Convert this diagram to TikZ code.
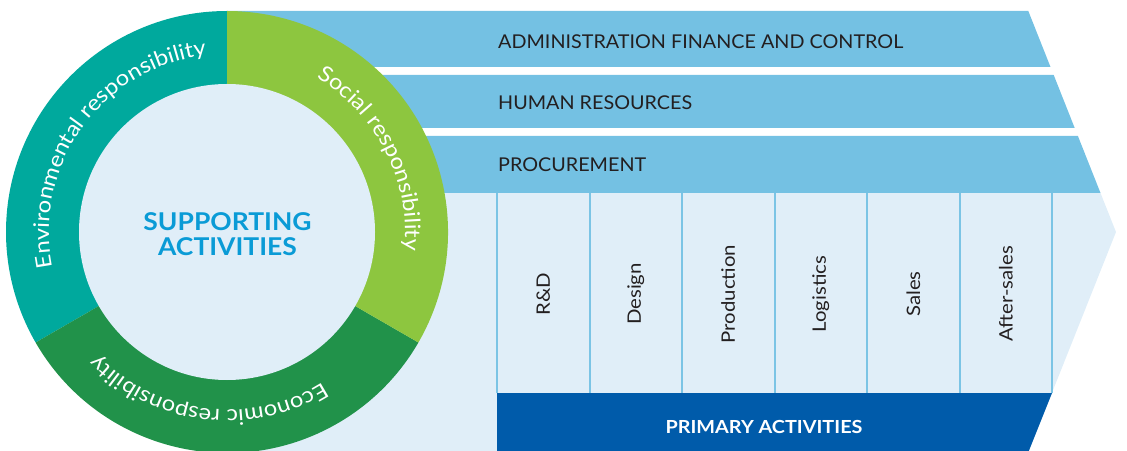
\documentclass[tikz,border=0pt]{standalone}
\usepackage{fontspec}
\setmainfont{Lato}
\newfontfamily\bandfont[FakeStretch=1.04]{Lato}
\newfontfamily\colfont[FakeStretch=1.1]{Lato}
\newfontfamily\ringfont[FakeStretch=1.1]{Lato}
\newfontfamily\boldwide[FakeStretch=1.08]{Lato Bold}
\newfontfamily\primfont[FakeStretch=1.1]{Lato Bold}
\usetikzlibrary{decorations.text}
\definecolor{bandblue}{HTML}{74C1E3}
\definecolor{bgblue}{HTML}{E0EEF8}
\definecolor{primblue}{HTML}{005BAA}
\definecolor{ringteal}{HTML}{00A99D}
\definecolor{ringlgreen}{HTML}{8DC63F}
\definecolor{ringdgreen}{HTML}{21924A}
\definecolor{supptext}{HTML}{0A9BD6}
\definecolor{darktext}{HTML}{231F20}
\definecolor{colline}{HTML}{7BC4E5}
\tikzset{
  bandlabel/.style={anchor=west, inner sep=0pt, text=darktext, font=\bandfont\fontsize{19}{19}\selectfont},
  collabel/.style={rotate=90, inner sep=0pt, text=darktext, font=\colfont\fontsize{18.5}{18.5}\selectfont},
  collinestyle/.style={draw=colline, line width=2pt},
  ringtext/.style={decorate, decoration={text along path, text align=center, text color=white,
     text={|\ringfont\fontsize{21.5}{21.5}\selectfont|#1}}}
}
\begin{document}
\begin{tikzpicture}[x=1pt,y=1pt]
\useasboundingbox (0,0) rectangle (1127,450);
\clip (0,0) rectangle (1127,450);
\coordinate (C) at (227,218);
% background chevron
\fill[bgblue] (227,257) -- (1100.5,257) -- (1116,218) -- (1028,-3) -- (227,-3) -- cycle;
% bands
\fill[bandblue] (227,439) -- (1028.3,439) -- (1050.5,383) -- (227,383) -- cycle;
\fill[bandblue] (227,375) -- (1053.7,375) -- (1074.7,322) -- (227,322) -- cycle;
\fill[bandblue] (227,314) -- (1077.9,314) -- (1100.5,257) -- (227,257) -- cycle;
\node[bandlabel] (adm) at (498,408) {ADMINISTRATION FINANCE AND CONTROL};
\node[bandlabel] (hr) at (498,347) {HUMAN RESOURCES};
\node[bandlabel] (proc) at (498,285.5) {PROCUREMENT};
% columns
\foreach \i in {0,...,6} {
  \draw[collinestyle] (497+92.5*\i,257) -- (497+92.5*\i,57);
}
\node[collabel] (rd) at (543.25,156) {R\&D};
\node[collabel] (des) at (635.75,156) {Design};
\node[collabel] (prod) at (728.25,156) {Production};
\node[collabel] (log) at (820.75,156) {Logistics};
\node[collabel] (sal) at (913.25,156) {Sales};
\node[collabel] (aft) at (1005.75,156) {After-sales};
% primary band
\fill[primblue] (497,57) -- (1052,57) -- (1028,-3) -- (497,-3) -- cycle;
\node[text=white, font=\primfont\fontsize{18}{18}\selectfont] (prim) at (764,23) {PRIMARY ACTIVITIES};
% ring
\fill[ringteal] (C) -- ++(90:221) arc[start angle=90, end angle=210, radius=221] -- cycle;
\fill[ringdgreen] (C) -- ++(210:221) arc[start angle=210, end angle=330, radius=221] -- cycle;
\fill[ringlgreen] (C) -- ++(330:221) arc[start angle=330, end angle=450, radius=221] -- cycle;
\fill[bgblue] (C) circle[radius=148];
\path[ringtext={Environmental responsibility}] (C) ++(204:178) arc[start angle=204, end angle=84, radius=178];
\path[ringtext={Social responsibility}] (C) ++(87:178) arc[start angle=87, end angle=-33, radius=178];
\path[ringtext={Economic responsibility}] (C) ++(323:178) arc[start angle=323, end angle=203, radius=178];
\node[text=supptext, font=\boldwide\fontsize{24.5}{24.5}\selectfont, align=center] (supp) at (227.5,216) {SUPPORTING\\ACTIVITIES};
\end{tikzpicture}
\end{document}
